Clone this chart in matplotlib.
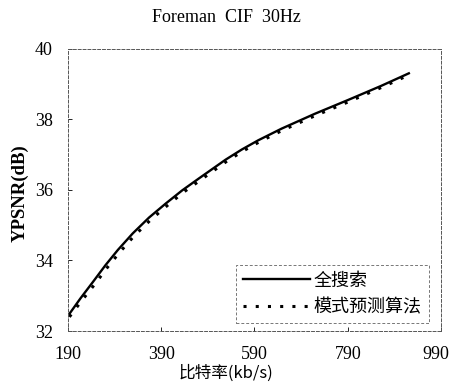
import matplotlib
matplotlib.use("Agg")
import matplotlib.pyplot as plt
from matplotlib.transforms import ScaledTranslation

bitrate_full = [190, 217, 244, 270, 297, 329, 364, 400, 435, 471, 528, 563, 598, 648, 719, 790, 861, 921]
psnr_full = [32.43, 32.93, 33.4, 33.86, 34.3, 34.77, 35.22, 35.62, 35.99, 36.33, 36.86, 37.15, 37.41, 37.74, 38.16, 38.55, 38.95, 39.31]
bitrate_pred = [193, 220, 247, 273, 300, 332, 367, 403, 438, 474, 531, 566, 601, 651, 722, 793, 864, 924]
psnr_pred = [32.4, 32.87, 33.32, 33.78, 34.22, 34.7, 35.15, 35.56, 35.94, 36.28, 36.82, 37.11, 37.37, 37.7, 38.12, 38.51, 38.92, 39.28]

xticks = [190, 390, 590, 790, 990]
yticks = [32, 34, 36, 38, 40]
title = "Foreman  CIF  30Hz"
xlabel = "比特率(kb/s)"
ylabel = "YPSNR(dB)"
labels = ["全搜索", "模式预测算法"]

serif = ["Liberation Serif", "Noto Sans CJK SC", "DejaVu Sans"]
cjk = ["Noto Sans CJK SC", "Liberation Serif", "DejaVu Sans"]

fig = plt.figure(figsize=(4.52, 3.87), dpi=100)
ax = fig.add_axes([0.1504, 0.1447, 0.8253, 0.7287])

ax.plot(bitrate_full, psnr_full, color="black", lw=1.7, label=labels[0])
ax.plot(bitrate_pred, psnr_pred, color="black", lw=2.2, linestyle=(0, (1, 3)), label=labels[1])

ax.set_xlim(190, 990)
ax.set_ylim(32, 40)
ax.set_xticks(xticks)
ax.set_yticks(yticks)
ax.tick_params(direction="in", length=3, width=0.6, labelsize=13, pad=11)
for lab in ax.get_xticklabels() + ax.get_yticklabels():
    lab.set_family(serif)
last = ax.get_xticklabels()[-1]
last.set_transform(last.get_transform() + ScaledTranslation(-5 / 100, 0, fig.dpi_scale_trans))

for s in ax.spines.values():
    s.set_linestyle((0, (3, 2)))
    s.set_linewidth(0.7)
    s.set_color("#555555")

fig.text(0.5, 0.955, title, ha="center", va="center", fontsize=13, family=serif)
fig.text(0.5, 0.036, xlabel, ha="center", va="center", fontsize=12, family=cjk)
fig.text(0.045, 0.5, ylabel, ha="center", va="center", rotation=90, fontsize=13.5, family=serif, fontweight="bold")

leg = ax.legend(loc="lower right", bbox_to_anchor=(0.968, 0.028), prop={"family": cjk, "size": 13},
                handlelength=3.7, frameon=True, fancybox=False, borderpad=0.4, labelspacing=0.45,
                handletextpad=0.2, borderaxespad=0)
fr = leg.get_frame()
fr.set_edgecolor("#555555")
fr.set_linestyle((0, (3, 2)))
fr.set_linewidth(0.7)

fig.savefig("out.png", dpi=100)
